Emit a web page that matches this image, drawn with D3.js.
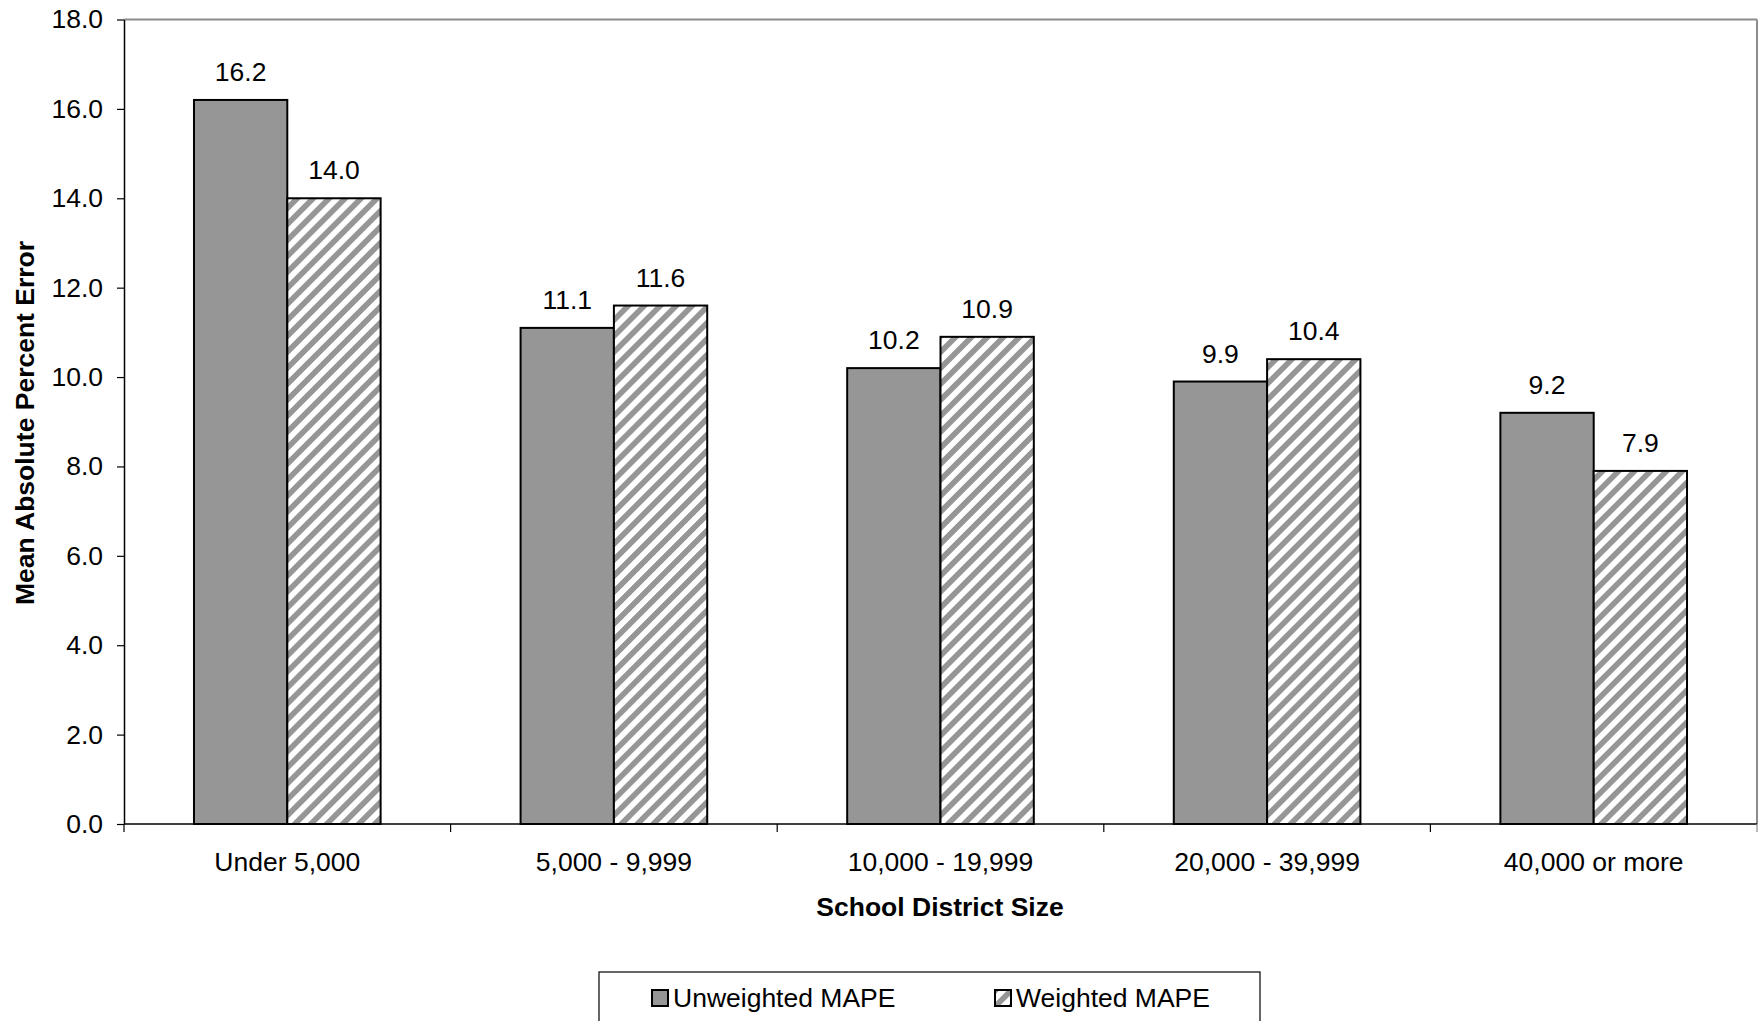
<!DOCTYPE html>
<html>
<head>
<meta charset="utf-8">
<script src="https://cdn.jsdelivr.net/npm/d3@7/dist/d3.min.js"></script>
<style>
  html, body { margin: 0; padding: 0; background: #fff; }
  svg { display: block; }
  text { font-family: "Liberation Sans", Arial, sans-serif; fill: #000; }
</style>
</head>
<body>
<svg id="chart" width="1764" height="1021"></svg>
<script>
const categories = ["Under 5,000", "5,000 - 9,999", "10,000 - 19,999", "20,000 - 39,999", "40,000 or more"];
const seriesNames = ["Unweighted MAPE", "Weighted MAPE"];
const unweighted = [16.2, 11.1, 10.2, 9.9, 9.2];
const weighted = [14.0, 11.6, 10.9, 10.4, 7.9];
const yTicks = [0, 2, 4, 6, 8, 10, 12, 14, 16, 18];
const yTitle = "Mean Absolute Percent Error";
const xTitle = "School District Size";

(function () {
const svg = d3.select("#chart");
const pLeft = 124, pRight = 1757, pTop = 19.5, pBottom = 824;
const FS = "26.5px";

const defs = svg.append("defs");
const P = 11.3;
const pat = defs.append("pattern")
  .attr("id", "hatch").attr("patternUnits", "userSpaceOnUse")
  .attr("width", P).attr("height", P)
  .attr("patternTransform", "rotate(45)");
pat.append("rect").attr("width", P).attr("height", P).attr("fill", "#fff");
pat.append("rect").attr("x", 0).attr("y", 0).attr("width", P / 2).attr("height", P).attr("fill", "#969696");

const x0 = d3.scaleBand().domain(categories).range([pLeft, pRight]).padding(0);
const x1 = d3.scaleBand().domain(seriesNames).range([0, x0.bandwidth()]).paddingInner(0).paddingOuter(0.75);
const y = d3.scaleLinear().domain([0, 18]).range([pBottom, pTop]);

svg.append("line").attr("x1", pLeft).attr("x2", pRight).attr("y1", pTop).attr("y2", pTop)
  .attr("stroke", "#8c8c8c").attr("stroke-width", 2);
svg.append("line").attr("x1", pRight).attr("x2", pRight).attr("y1", pTop).attr("y2", pBottom)
  .attr("stroke", "#8c8c8c").attr("stroke-width", 2);

const data = categories.map((c, i) => ({cat: c, vals: [
  {s: seriesNames[0], v: unweighted[i]},
  {s: seriesNames[1], v: weighted[i]}
]}));

const fills = {"Unweighted MAPE": "#969696", "Weighted MAPE": "url(#hatch)"};

const groups = svg.append("g").selectAll("g").data(data).join("g")
  .attr("transform", d => `translate(${x0(d.cat)},0)`);

groups.selectAll("rect").data(d => d.vals).join("rect")
  .attr("x", d => x1(d.s))
  .attr("y", d => y(d.v))
  .attr("width", x1.bandwidth())
  .attr("height", d => y(0) - y(d.v))
  .attr("fill", d => fills[d.s])
  .attr("stroke", "#000").attr("stroke-width", 2);

groups.selectAll("text.lbl").data(d => d.vals).join("text")
  .attr("class", "lbl")
  .attr("x", d => x1(d.s) + x1.bandwidth() / 2)
  .attr("y", d => y(d.v) - 19)
  .attr("text-anchor", "middle")
  .style("font-size", FS)
  .text(d => d3.format(".1f")(d.v));

const yAxis = svg.append("g").attr("transform", `translate(${pLeft},0)`)
  .call(d3.axisLeft(y).tickValues(yTicks).tickFormat(d3.format(".1f")).tickSize(7).tickSizeOuter(0).tickPadding(14));
yAxis.select(".domain").attr("stroke", "#000").attr("stroke-width", 1.5);
yAxis.selectAll(".tick line").attr("stroke", "#000").attr("stroke-width", 1.2);
yAxis.selectAll(".tick text").style("font-size", FS).style("font-family", "'Liberation Sans', Arial, sans-serif").attr("fill", "#000");

const boundaries = categories.map(c => x0(c)).concat([pRight]);
svg.append("line").attr("x1", pLeft).attr("x2", pRight).attr("y1", pBottom).attr("y2", pBottom)
  .attr("stroke", "#000").attr("stroke-width", 1.5);
svg.append("g").selectAll("line").data(boundaries).join("line")
  .attr("x1", d => d).attr("x2", d => d).attr("y1", pBottom).attr("y2", pBottom + 8)
  .attr("stroke", d => d === pRight ? "#8c8c8c" : "#000").attr("stroke-width", 1.2);

svg.append("g").selectAll("text").data(categories).join("text")
  .attr("x", d => x0(d) + x0.bandwidth() / 2)
  .attr("y", 871)
  .attr("text-anchor", "middle")
  .style("font-size", FS)
  .text(d => d);

svg.append("text").attr("x", 940).attr("y", 916).attr("text-anchor", "middle")
  .style("font-size", FS).style("font-weight", "bold").text(xTitle);
svg.append("text").attr("transform", "translate(34,423) rotate(-90)").attr("text-anchor", "middle")
  .style("font-size", FS).style("font-weight", "bold").text(yTitle);

const lg = svg.append("g");
lg.append("rect").attr("x", 599).attr("y", 972).attr("width", 661).attr("height", 80)
  .attr("fill", "#fff").attr("stroke", "#000").attr("stroke-width", 1.2);
const legendItems = [
  {name: seriesNames[0], sx: 652, tx: 673},
  {name: seriesNames[1], sx: 995, tx: 1016}
];
legendItems.forEach(it => {
  lg.append("rect").attr("x", it.sx).attr("y", 990).attr("width", 16).attr("height", 16)
    .attr("fill", fills[it.name]).attr("stroke", "#000").attr("stroke-width", 2);
  lg.append("text").attr("x", it.tx).attr("y", 1007).style("font-size", FS).text(it.name);
});
})();
</script>
</body>
</html>
